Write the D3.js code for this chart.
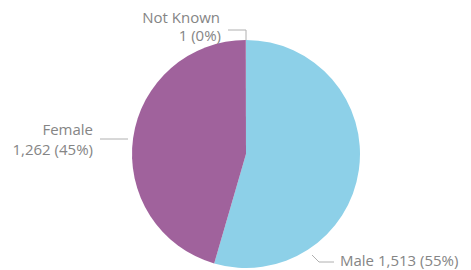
<!DOCTYPE html>
<html><head><meta charset="utf-8">
<script src="https://cdn.jsdelivr.net/npm/d3@7"></script>
<style>html,body{margin:0;padding:0;background:#fff;}svg{display:block;}</style>
</head><body>
<script>
const categories = ["Male", "Female", "Not Known"];
const values = [1513, 1262, 1];
const percentLabels = ["55%", "45%", "0%"];
const colors = ["#8dd0e8", "#a0629c", "#a0629c"];

const W = 471, H = 270;
const cx = 246, cy = 154, R = 114;
const svg = d3.select("body").append("svg").attr("width", W).attr("height", H);
const g = svg.append("g").attr("transform", `translate(${cx},${cy})`);

const data = categories.map((c, i) => ({cat: c, value: values[i], pct: percentLabels[i], color: colors[i]}));
const pie = d3.pie().value(d => d.value).sort(null).startAngle(0).endAngle(2 * Math.PI);
const arcs = pie(data);
const arc = d3.arc().innerRadius(0).outerRadius(R);

g.selectAll("path.slice").data(arcs).join("path")
  .attr("class", "slice")
  .attr("d", arc)
  .attr("fill", d => d.data.color);

const fmt = d3.format(",");
const txtColor = "#858585", lineColor = "#b0b0b0";
const font = "'Open Sans', 'DejaVu Sans', sans-serif";

// label layout (positions relative to chart, not data)
const layout = {
  "Not Known": {line: [[246, 40], [246, 30], [228, 30]], texts: [{t: d => d.cat, x: 220, y: 23, a: "end"}, {t: d => `${fmt(d.value)} (${d.pct})`, x: 221, y: 41, a: "end"}]},
  "Female": {line: [[128, 139], [100, 139]], texts: [{t: d => d.cat, x: 93, y: 135, a: "end"}, {t: d => `${fmt(d.value)} (${d.pct})`, x: 93, y: 155, a: "end"}]},
  "Male": {line: [[312, 255], [319, 262], [334, 262]], texts: [{t: d => `${d.cat} ${fmt(d.value)} (${d.pct})`, x: 340, y: 266, a: "start"}]}
};

const lg = svg.append("g");
data.forEach(d => {
  const L = layout[d.cat];
  lg.append("path").attr("d", d3.line()(L.line)).attr("fill", "none").attr("stroke", lineColor).attr("stroke-width", 1);
  L.texts.forEach(t => {
    lg.append("text").attr("x", t.x).attr("y", t.y).attr("text-anchor", t.a)
      .attr("font-family", font).attr("font-size", 15).attr("font-weight", 500).attr("fill", txtColor)
      .text(t.t(d));
  });
});
</script>
</body></html>
